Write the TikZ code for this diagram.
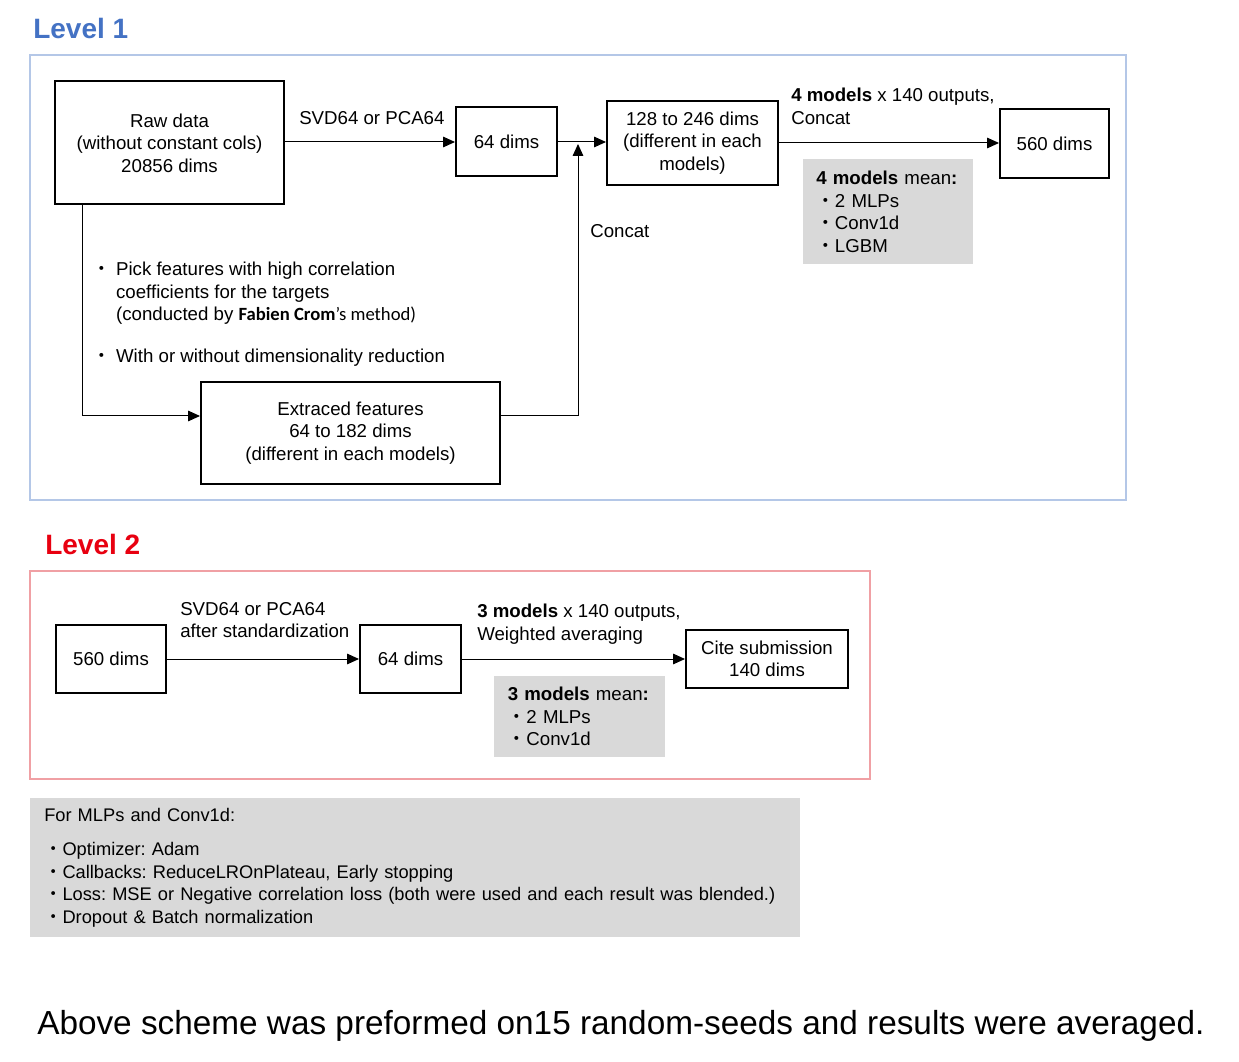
\documentclass[tikz,border=0pt]{standalone}
\usepackage{fontspec}
\setmainfont{Liberation Sans}
\newfontfamily\cjkfont{Noto Sans CJK JP}
\newfontfamily\calibfont{Carlito}
\usetikzlibrary{arrows.meta}
\definecolor{lvlblue}{RGB}{68,114,196}
\definecolor{lvlred}{RGB}{232,0,16}
\definecolor{frameblue}{RGB}{180,199,231}
\definecolor{framered}{RGB}{240,160,164}
\definecolor{notegray}{RGB}{217,217,217}
\newcommand{\mdot}{{\cjkfont ・}}
\frenchspacing

\begin{document}
\begin{tikzpicture}[x=0.75pt,y=0.75pt,yscale=-1,xscale=1,
  font=\fontsize{14pt}{16.9pt}\selectfont,
  dimbox/.style={draw, line width=1.5pt, align=center, inner sep=0pt},
  notebox/.style={fill=notegray, anchor=north west, align=left, inner ysep=0pt},
  lbl/.style={anchor=north west, align=left, inner sep=0pt},
  arr/.style={-{Triangle[length=9pt,width=8pt]}, line width=0.75pt}]
\useasboundingbox (0,0) rectangle (1239,1062);

%Shape: Frame Level 1
\draw [frameblue, line width=1.5pt] (30,55) rectangle (1126,500);
%Shape: Frame Level 2
\draw [framered, line width=1.5pt] (30,571) rectangle (870,779);

% Text Node
\node [lbl, font=\fontsize{21pt}{25pt}\selectfont\bfseries, text=lvlblue] (lvlA) at (33,18) {Level 1};
% Text Node
\node [lbl, font=\fontsize{21pt}{25pt}\selectfont\bfseries, text=lvlred] (lvlB) at (45,534) {Level 2};

%Level 1 boxes
\node [dimbox, minimum width=171.75pt, minimum height=92.25pt] (raw) at (169.5,143) {Raw data\\(without constant cols)\\20856 dims};
\node [dimbox, minimum width=75.75pt, minimum height=51.75pt] (dimsA) at (506.5,142) {64 dims};
\node [dimbox, minimum width=128.25pt, minimum height=63pt] (mixdims) at (692.5,143) {128 to 246 dims\\(different in each\\models)};
\node [dimbox, minimum width=81.75pt, minimum height=51.75pt] (outA) at (1054.5,143.5) {560 dims};
\node [dimbox, minimum width=224.25pt, minimum height=76.5pt] (ext) at (350.5,433) {Extraced features\\64 to 182 dims\\(different in each models)};
\node [notebox, text width=108pt, inner xsep=9.75pt, minimum height=78.75pt] (meanA) at (803,159) {\textbf{4 models} mean\textbf{:}\\\mdot 2 MLPs\\\mdot Conv1d\\\mdot LGBM};

% Text Node
\node [lbl] (svdA) at (299,111) {SVD64 or PCA64};
% Text Node
\node [lbl] (concatA) at (791,88) {\textbf{4 models} x 140 outputs,\\Concat};
% Text Node
\node [lbl] (concatB) at (590,224) {Concat};
% Text Node
\node [lbl] (pick) at (92,262) {\mdot\ Pick features with high correlation\\\phantom{\mdot\ }coefficients for the targets\\\phantom{\mdot\ }(conducted by {\calibfont\textbf{Fabien Crom}’s method)}\\[14.25pt]\mdot\ With or without dimensionality reduction};

%Level 1 connectors
\coordinate (turnA) at (82,416);
\coordinate (turnB) at (578,416);
\draw [arr] (raw.east |- dimsA.east) -- (dimsA);
\draw [arr] (dimsA) -- (mixdims.west |- dimsA.east);
\draw [arr] (mixdims) -- (outA.west |- mixdims.east);
\draw [arr] (raw.south -| turnA) -- (turnA) -- (ext.west |- turnA);
\draw [arr, shorten >=1.5pt] (ext.east |- turnB) -- (turnB) -- (turnB |- dimsA.east);

%Level 2 boxes
\node [dimbox, minimum width=82.5pt, minimum height=51pt] (inB) at (111,659) {560 dims};
\node [dimbox, minimum width=75.75pt, minimum height=51pt] (dimsB) at (410.5,659) {64 dims};
\node [dimbox, minimum width=121.5pt, minimum height=43.5pt] (cite) at (767,659) {Cite submission\\140 dims};
\node [notebox, text width=108pt, inner xsep=10.125pt, minimum height=60.75pt] (meanB) at (494,676) {\textbf{3 models} mean\textbf{:}\\\mdot 2 MLPs\\\mdot Conv1d};

% Text Node
\node [lbl] (svdB) at (180,602) {SVD64 or PCA64\\after standardization};
% Text Node
\node [lbl] (weightB) at (477,604) {\textbf{3 models} x 140 outputs,\\Weighted averaging};

%Level 2 connectors
\draw [arr] (inB) -- (dimsB);
\draw [arr] (dimsB) -- (cite);

%Training notes
\node [notebox, font=\fontsize{13.7pt}{16.9pt}\selectfont, text width=556.5pt, inner xsep=10.5pt, minimum height=104.25pt] (train) at (30,798) {For MLPs and Conv1d:\\[8.5pt]\mdot Optimizer: Adam\\\mdot Callbacks: ReduceLROnPlateau, Early stopping\\\mdot Loss: MSE or Negative correlation loss (both were used and each result was blended.)\\\mdot Dropout \& Batch normalization};

% Text Node
\node [lbl, font=\fontsize{25pt}{30pt}\selectfont] (footer) at (37,1010) {Above scheme was preformed on15 random-seeds and results were averaged.};

\end{tikzpicture}
\end{document}
